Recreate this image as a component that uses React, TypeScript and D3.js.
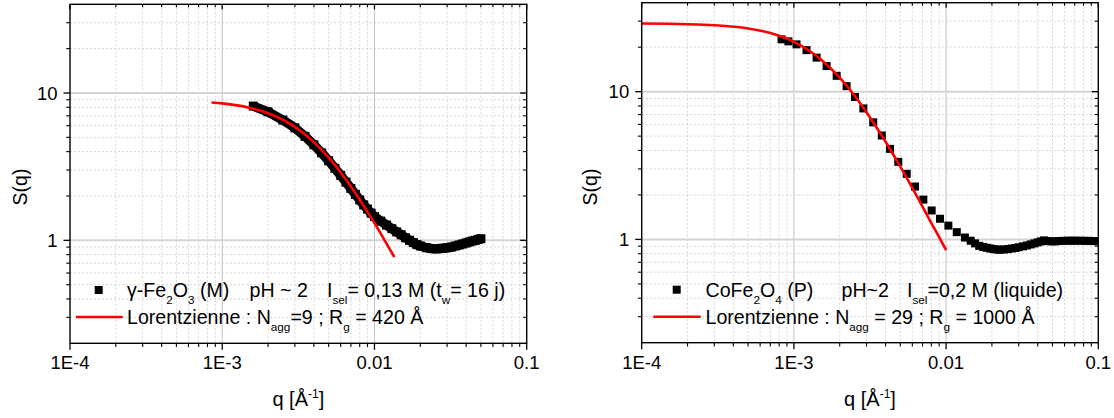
import React from 'react';
import * as d3 from 'd3';

// ---------- Left panel : γ-Fe2O3 (M) ----------
const qLeft = [0.0016, 0.002, 0.0025, 0.003, 0.0035, 0.004, 0.0045, 0.005, 0.0055, 0.006, 0.0065, 0.007, 0.0075, 0.008, 0.0085, 0.009, 0.0095, 0.01, 0.011, 0.012, 0.013, 0.014, 0.015, 0.016, 0.017, 0.018, 0.019, 0.02, 0.022, 0.024, 0.026, 0.028, 0.03, 0.032, 0.034, 0.036, 0.038, 0.04, 0.042, 0.044, 0.046, 0.048, 0.05];
const sLeft = [8.15, 7.45, 6.55, 5.8, 5.08, 4.45, 3.92, 3.47, 3.08, 2.76, 2.48, 2.25, 2.05, 1.88, 1.74, 1.63, 1.53, 1.45, 1.35, 1.27, 1.2, 1.14, 1.09, 1.04, 1.0, 0.965, 0.935, 0.915, 0.89, 0.878, 0.877, 0.882, 0.89, 0.9, 0.915, 0.93, 0.945, 0.96, 0.975, 0.99, 1.0, 1.015, 1.025];
const qLorLeft = [0.00085, 0.001, 0.0015, 0.002, 0.003, 0.004, 0.005, 0.006, 0.007, 0.008, 0.009, 0.01, 0.011, 0.012, 0.0135];
const sLorLeft = [8.63, 8.5, 7.95, 7.29, 5.89, 4.64, 3.64, 2.89, 2.32, 1.89, 1.56, 1.31, 1.11, 0.95, 0.77];

// ---------- Right panel : CoFe2O4 (P) ----------
const qRight = [0.00083, 0.00092, 0.00104, 0.00121, 0.00141, 0.00164, 0.00191, 0.00222, 0.00252, 0.00286, 0.00332, 0.00378, 0.00428, 0.00485, 0.00551, 0.00625, 0.00709, 0.00804, 0.00912, 0.01035, 0.01175, 0.0133, 0.0145, 0.0155, 0.0165, 0.0175, 0.0185, 0.0195, 0.0205, 0.0215, 0.0225, 0.024, 0.0255, 0.027, 0.0285, 0.03, 0.032, 0.034, 0.036, 0.038, 0.04, 0.042, 0.044, 0.046, 0.049, 0.052, 0.055, 0.059, 0.063, 0.067, 0.071, 0.076, 0.081, 0.086, 0.091, 0.096, 0.1];
const sRight = [22.6, 21.9, 20.9, 19.1, 17.0, 14.9, 12.8, 10.9, 9.2, 7.7, 6.2, 5.05, 4.1, 3.35, 2.78, 2.28, 1.86, 1.57, 1.38, 1.24, 1.12, 1.03, 0.98, 0.94, 0.905, 0.89, 0.878, 0.868, 0.86, 0.855, 0.852, 0.855, 0.86, 0.868, 0.875, 0.885, 0.898, 0.91, 0.925, 0.94, 0.955, 0.97, 0.985, 0.975, 0.97, 0.97, 0.975, 0.978, 0.98, 0.98, 0.98, 0.98, 0.978, 0.978, 0.975, 0.975, 0.972];
const qLorRight = [0.0001, 0.0002, 0.0003, 0.0005, 0.0007, 0.001, 0.0015, 0.002, 0.0025, 0.003, 0.004, 0.005, 0.006, 0.007, 0.008, 0.009, 0.01];
const sLorRight = [28.9, 28.62, 28.16, 26.77, 24.93, 21.75, 16.57, 12.43, 9.41, 7.25, 4.58, 3.11, 2.23, 1.67, 1.29, 1.036, 0.845];

// ---------- Axes ----------
const xTicks = [1e-4, 1e-3, 1e-2, 1e-1];
const xTickLabels = ['1E-4', '1E-3', '0.01', '0.1'];
const yTicks = [1, 10];
const yTickLabels = ['1', '10'];
const xDomain = [1e-4, 0.1];
const yDomain = [0.2, 40];

// dx: offset (px, from legend text start) at which a segment begins
type Seg = { t: string; sub?: boolean; sup?: boolean; at?: number };

const legLeft1: Seg[] = [
  { t: 'γ-Fe' }, { t: '2', sub: true }, { t: 'O' }, { t: '3', sub: true }, { t: ' (M)' },
  { t: 'pH ~ 2', at: 122.5 },
  { t: 'I', at: 200 }, { t: 'sel', sub: true }, { t: '= 0,13 M (t' }, { t: 'w', sub: true }, { t: '= 16 j)' },
];
const legLeft2: Seg[] = [
  { t: 'Lorentzienne : N' }, { t: 'agg', sub: true }, { t: '=9 ; R' }, { t: 'g', sub: true }, { t: ' = 420 Å' },
];
const legRight1: Seg[] = [
  { t: 'CoFe' }, { t: '2', sub: true }, { t: 'O' }, { t: '4', sub: true }, { t: ' (P)' },
  { t: 'pH~2', at: 136 },
  { t: 'I', at: 201.5 }, { t: 'sel', sub: true }, { t: '=0,2 M (liquide)' },
];
const legRight2: Seg[] = [
  { t: 'Lorentzienne : N' }, { t: 'agg', sub: true }, { t: ' = 29 ; R' }, { t: 'g', sub: true }, { t: ' = 1000 Å' },
];
const xTitle: Seg[] = [{ t: 'q [Å' }, { t: '-1', sup: true }, { t: ']' }];
const yTitle = 'S(q)';

const FONT = "'Liberation Sans', Arial, Helvetica, sans-serif";

function Rich({ x, y, segs, size, anchor }: { x: number; y: number; segs: Seg[]; size: number; anchor?: string }) {
  let cur = 0;
  return (
    <text x={x} y={y} fontSize={size} textAnchor={anchor || 'start'} style={{ whiteSpace: 'pre' }} fill="#000">
      {segs.map((s, i) => {
        const target = s.sub ? size * 0.36 : s.sup ? -size * 0.42 : 0;
        const dy = target - cur;
        cur = target;
        return (
          <tspan key={i} dy={dy} x={s.at !== undefined ? x + s.at : undefined} fontSize={s.sub || s.sup ? size * 0.6 : size}>
            {s.t}
          </tspan>
        );
      })}
    </text>
  );
}

type PanelCfg = {
  key: string;
  left: number; right: number; top: number; bottom: number;
  q: number[]; s: number[]; lq: number[]; ls: number[];
  band: boolean;
  marker: number;
  legX: number; legLineX0: number; legLineX1: number; legTextX: number;
  legY1: number; legY2: number;
  leg1: Seg[]; leg2: Seg[];
  yTitleX: number;
};

function Panel({ c }: { c: PanelCfg }) {
  const x = d3.scaleLog().domain(xDomain).range([c.left, c.right]);
  const y = d3.scaleLog().domain(yDomain).range([c.bottom, c.top]);

  const xMinor: number[] = [];
  [1e-4, 1e-3, 1e-2].forEach(d => { for (let k = 2; k <= 9; k++) xMinor.push(k * d); });
  const yMinor: number[] = [];
  [0.1, 1, 10].forEach(d => { for (let k = 2; k <= 9; k++) { const v = k * d; if (v > 0.2 && v < 40) yMinor.push(v); } });

  const idx = c.q.map((_, i) => i);
  const lidx = c.lq.map((_, i) => i);
  const dataLine = d3.line<number>().x(i => x(c.q[i])).y(i => y(c.s[i]));
  const lorLine = d3.line<number>().x(i => x(c.lq[i])).y(i => y(c.ls[i])).curve(d3.curveMonotoneX);

  const m = c.marker;
  const clipId = 'clip' + c.key;
  const lm = 8;
  return (
    <g>
      <defs>
        <clipPath id={clipId}>
          <rect x={c.left} y={c.top} width={c.right - c.left} height={c.bottom - c.top} />
        </clipPath>
      </defs>
      {/* minor grid */}
      {xMinor.map((v, i) => (
        <line key={'xm' + i} x1={x(v)} x2={x(v)} y1={c.top} y2={c.bottom} stroke="#d6d6d6" strokeWidth={1} strokeDasharray="2,2" />
      ))}
      {yMinor.map((v, i) => (
        <line key={'ym' + i} x1={c.left} x2={c.right} y1={y(v)} y2={y(v)} stroke="#d6d6d6" strokeWidth={1} strokeDasharray="2,2" />
      ))}
      {/* major grid */}
      {xTicks.slice(1, 3).map((v, i) => (
        <line key={'xM' + i} x1={x(v)} x2={x(v)} y1={c.top} y2={c.bottom} stroke="#c2c2c2" strokeWidth={1} />
      ))}
      {yTicks.map((v, i) => (
        <line key={'yM' + i} x1={c.left} x2={c.right} y1={y(v)} y2={y(v)} stroke="#d4d4d4" strokeWidth={2} />
      ))}

      {/* data */}
      <g clipPath={`url(#${clipId})`}>
        {c.band && (
          <path d={dataLine(idx) || ''} fill="none" stroke="#000" strokeWidth={9.5} strokeLinejoin="round" />
        )}
        {idx.map(i => (
          <rect key={'p' + i} x={x(c.q[i]) - m / 2} y={y(c.s[i]) - m / 2} width={m} height={m} fill="#000" />
        ))}
        <path d={lorLine(lidx) || ''} fill="none" stroke="#ff0000" strokeWidth={2.6} />
      </g>

      {/* axes frame */}
      <rect x={c.left} y={c.top} width={c.right - c.left} height={c.bottom - c.top} fill="none" stroke="#000" strokeWidth={1.4} />

      {/* bottom ticks (outward) & top ticks (inward) */}
      {xTicks.map((v, i) => (
        <g key={'xt' + i}>
          <line x1={x(v)} x2={x(v)} y1={c.bottom} y2={c.bottom + 6.5} stroke="#000" strokeWidth={1.3} />
          <line x1={x(v)} x2={x(v)} y1={c.top} y2={c.top + 5} stroke="#000" strokeWidth={1.3} />
          <text x={x(v)} y={c.bottom + 26} fontSize={18.5} textAnchor="middle" fill="#000">{xTickLabels[i]}</text>
        </g>
      ))}
      {xMinor.map((v, i) => (
        <g key={'xmt' + i}>
          <line x1={x(v)} x2={x(v)} y1={c.bottom} y2={c.bottom + 3.8} stroke="#000" strokeWidth={1.1} />
          <line x1={x(v)} x2={x(v)} y1={c.top} y2={c.top + 3} stroke="#000" strokeWidth={1.1} />
        </g>
      ))}
      {/* left ticks (outward) & right ticks (inward) */}
      {yTicks.map((v, i) => (
        <g key={'yt' + i}>
          <line x1={c.left - 6.5} x2={c.left} y1={y(v)} y2={y(v)} stroke="#000" strokeWidth={1.3} />
          <line x1={c.right - 6.5} x2={c.right} y1={y(v)} y2={y(v)} stroke="#000" strokeWidth={1.3} />
          <text x={c.left - 12.5} y={y(v)} dy="0.36em" fontSize={18.5} textAnchor="end" fill="#000">{yTickLabels[i]}</text>
        </g>
      ))}
      {yMinor.map((v, i) => (
        <g key={'ymt' + i}>
          <line x1={c.left - 3.8} x2={c.left} y1={y(v)} y2={y(v)} stroke="#000" strokeWidth={1.1} />
          <line x1={c.right - 3.5} x2={c.right} y1={y(v)} y2={y(v)} stroke="#000" strokeWidth={1.1} />
        </g>
      ))}

      {/* titles */}
      <Rich x={(c.left + c.right) / 2} y={406} segs={xTitle} size={20} anchor="middle" />
      <text transform={`translate(${c.yTitleX},187) rotate(-90)`} fontSize={19.5} textAnchor="middle" dy="0.35em" fill="#000">{yTitle}</text>

      {/* legend */}
      <rect x={c.legX - lm / 2} y={c.legY1 - 7.3 - lm / 2} width={lm} height={lm} fill="#000" />
      <line x1={c.legLineX0} x2={c.legLineX1} y1={c.legY2 - 7} y2={c.legY2 - 7} stroke="#ff0000" strokeWidth={2.6} />
      <Rich x={c.legTextX} y={c.legY1} segs={c.leg1} size={19.6} />
      <Rich x={c.legTextX} y={c.legY2} segs={c.leg2} size={19.6} />
    </g>
  );
}

const panels: PanelCfg[] = [
  {
    key: 'L', left: 70, right: 526.7, top: 4.3, bottom: 343.3,
    q: qLeft, s: sLeft, lq: qLorLeft, ls: sLorLeft, band: true, marker: 9,
    legX: 98.7, legLineX0: 76, legLineX1: 122.7, legTextX: 127, legY1: 297.3, legY2: 324,
    leg1: legLeft1, leg2: legLeft2, yTitleX: 20,
  },
  {
    key: 'R', left: 641.7, right: 1098.3, top: 2.7, bottom: 342.7,
    q: qRight, s: sRight, lq: qLorRight, ls: sLorRight, band: false, marker: 8,
    legX: 676.7, legLineX0: 653.3, legLineX1: 700.7, legTextX: 705.5, legY1: 297, legY2: 323.7,
    leg1: legRight1, leg2: legRight2, yTitleX: 590,
  },
];

export default function App() {
  return (
    <svg width={1114} height={418} style={{ position: 'absolute', left: 0, top: 0, background: '#fff' }} fontFamily={FONT}>
      <rect x={0} y={0} width={1114} height={418} fill="#fff" />
      {panels.map(p => <Panel key={p.key} c={p} />)}
    </svg>
  );
}
